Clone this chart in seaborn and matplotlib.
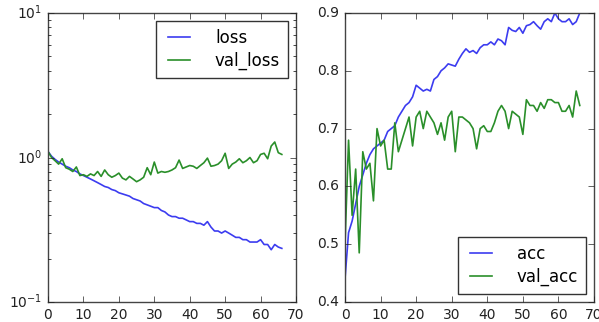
import matplotlib
matplotlib.use("Agg")
import matplotlib.pyplot as plt
import seaborn as sns
import pandas as pd
import numpy as np

loss = [1.10, 1.02, 0.97, 0.93, 0.90, 0.87, 0.85, 0.82, 0.80, 0.77,
        0.75, 0.73, 0.71, 0.69, 0.67, 0.65, 0.63, 0.62, 0.60, 0.59,
        0.57, 0.56, 0.55, 0.54, 0.52, 0.51, 0.50, 0.48, 0.47, 0.46,
        0.45, 0.45, 0.43, 0.42, 0.40, 0.39, 0.39, 0.38, 0.38, 0.37,
        0.36, 0.36, 0.35, 0.35, 0.34, 0.36, 0.33, 0.31, 0.31, 0.30,
        0.31, 0.30, 0.29, 0.28, 0.28, 0.27, 0.27, 0.26, 0.26, 0.26,
        0.27, 0.25, 0.25, 0.23, 0.25, 0.24, 0.235]
val_loss = [1.10, 1.00, 0.95, 0.90, 0.98, 0.85, 0.83, 0.80, 0.86, 0.75,
            0.76, 0.74, 0.77, 0.75, 0.80, 0.74, 0.82, 0.76, 0.73, 0.75,
            0.78, 0.72, 0.70, 0.74, 0.71, 0.68, 0.70, 0.73, 0.85, 0.76,
            0.93, 0.78, 0.80, 0.79, 0.80, 0.82, 0.85, 0.96, 0.84, 0.86,
            0.88, 0.87, 0.84, 0.88, 0.92, 0.99, 0.87, 0.88, 0.90, 0.95,
            1.07, 0.84, 0.90, 0.93, 0.98, 0.92, 0.95, 1.00, 0.92, 0.95,
            1.05, 1.07, 0.98, 1.20, 1.28, 1.08, 1.05]
acc = [0.44, 0.52, 0.54, 0.57, 0.60, 0.62, 0.64, 0.655, 0.665, 0.67,
       0.675, 0.68, 0.695, 0.70, 0.705, 0.72, 0.73, 0.74, 0.745, 0.755,
       0.775, 0.77, 0.765, 0.768, 0.765, 0.785, 0.79, 0.80, 0.805, 0.812,
       0.81, 0.808, 0.82, 0.83, 0.838, 0.832, 0.835, 0.83, 0.84, 0.845,
       0.845, 0.85, 0.845, 0.855, 0.852, 0.845, 0.875, 0.87, 0.868, 0.875,
       0.865, 0.878, 0.88, 0.885, 0.878, 0.872, 0.885, 0.89, 0.885, 0.90,
       0.89, 0.885, 0.885, 0.89, 0.88, 0.885, 0.90]
val_acc = [0.50, 0.68, 0.55, 0.63, 0.485, 0.66, 0.63, 0.64, 0.575, 0.70,
           0.67, 0.68, 0.63, 0.63, 0.71, 0.66, 0.68, 0.70, 0.72, 0.67,
           0.72, 0.73, 0.70, 0.73, 0.72, 0.71, 0.69, 0.71, 0.68, 0.72,
           0.73, 0.66, 0.72, 0.72, 0.715, 0.71, 0.70, 0.665, 0.70, 0.705,
           0.695, 0.695, 0.71, 0.73, 0.74, 0.73, 0.70, 0.73, 0.725, 0.72,
           0.69, 0.75, 0.74, 0.74, 0.73, 0.745, 0.735, 0.75, 0.75, 0.745,
           0.745, 0.73, 0.73, 0.74, 0.72, 0.765, 0.74]
epochs = list(range(len(loss)))

plt.style.use("classic")
plt.rcParams["font.family"] = ["DejaVu Sans"]
plt.rcParams["mathtext.fontset"] = "dejavusans"

BLUE = "#3c3cf0"
GREEN = "#2a8f2a"

fig = plt.figure(figsize=(5.99, 3.22), dpi=100)
fig.patch.set_facecolor("white")
ax1 = fig.add_axes([48/599, 20/322, 248/599, 289/322])
ax2 = fig.add_axes([345/599, 20/322, 249/599, 289/322])

df1 = pd.DataFrame({"epoch": epochs * 2,
                    "value": loss + val_loss,
                    "series": ["loss"] * len(loss) + ["val_loss"] * len(val_loss)})
df2 = pd.DataFrame({"epoch": epochs * 2,
                    "value": acc + val_acc,
                    "series": ["acc"] * len(acc) + ["val_acc"] * len(val_acc)})

sns.lineplot(data=df1, x="epoch", y="value", hue="series",
             palette=[BLUE, GREEN], ax=ax1, linewidth=1.2)
sns.lineplot(data=df2, x="epoch", y="value", hue="series",
             palette=[BLUE, GREEN], ax=ax2, linewidth=1.2)

ax1.set_yscale("log")
ax1.set_ylim(0.1, 10)
ax1.set_xlim(0, 70)
ax2.set_ylim(0.4, 0.9)
ax2.set_xlim(0, 70)
ax2.set_yticks([0.4, 0.5, 0.6, 0.7, 0.8, 0.9])

for ax in (ax1, ax2):
    ax.set_facecolor("white")
    ax.set_xlabel("")
    ax.set_ylabel("")
    ax.set_xticks(range(0, 71, 10))
    ax.tick_params(labelsize=10, colors="#222222")
    for s in ax.spines.values():
        s.set_color("#444444")

leg_kw = dict(fontsize=12, frameon=True, fancybox=False, handlelength=1.9,
              handletextpad=1.2, borderpad=0.45, labelspacing=0.3,
              borderaxespad=0.5)
lg1 = ax1.legend(loc="upper right", **leg_kw)
lg2 = ax2.legend(loc="lower right", **leg_kw)
for lg in (lg1, lg2):
    lg.get_frame().set_edgecolor("#333333")

fig.savefig("out.png", dpi=100, facecolor="white")
